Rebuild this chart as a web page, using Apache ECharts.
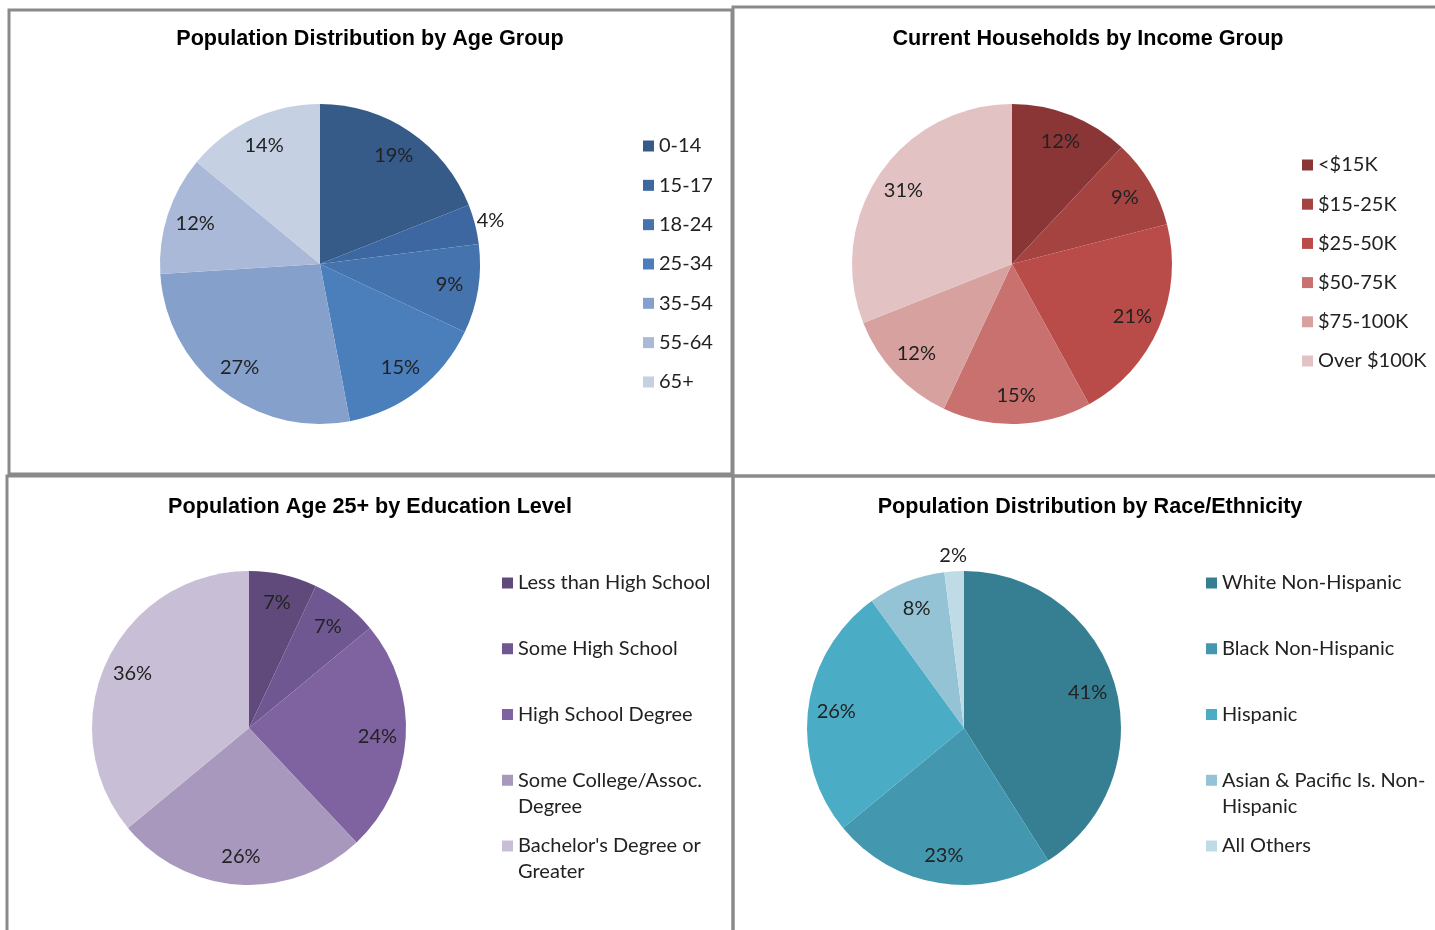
<!DOCTYPE html>
<html>
<head>
<meta charset="utf-8">
<script src="https://cdn.jsdelivr.net/npm/echarts@6/dist/echarts.min.js"></script>
<style>
  html, body { margin: 0; padding: 0; background: #ffffff; }
  #chart { width: 1435px; height: 930px; }
</style>
</head>
<body>
<div id="chart"></div>
<script>
// ---- Data (shares in percent) ----
const ageGroups = ['0-14', '15-17', '18-24', '25-34', '35-54', '55-64', '65+'];
const ageShares = [19, 4, 9, 15, 27, 12, 14];

const incomeGroups = ['<$15K', '$15-25K', '$25-50K', '$50-75K', '$75-100K', 'Over $100K'];
const incomeShares = [12, 9, 21, 15, 12, 31];

const educationLevels = ['Less than High School', 'Some High School', 'High School Degree',
  'Some College/Assoc.\nDegree', "Bachelor's Degree or\nGreater"];
const educationShares = [7, 7, 24, 26, 36];

const raceGroups = ['White Non-Hispanic', 'Black Non-Hispanic', 'Hispanic',
  'Asian & Pacific Is. Non-\nHispanic', 'All Others'];
const raceShares = [41, 23, 26, 8, 2];

const titles = [
  'Population Distribution by Age Group',
  'Current Households by Income Group',
  'Population Age 25+ by Education Level',
  'Population Distribution by Race/Ethnicity'
];

// ---- Layout and styling of the four panels ----
const TEXT_FONT = 'Lato, "Open Sans", sans-serif';
const TITLE_FONT = '"Liberation Sans", Arial, sans-serif';
const LINE_H = 26;

const panels = [
  { title: titles[0], names: ageGroups, values: ageShares,
    colors: ['#365B89', '#3D67A0', '#4573AE', '#4B7FBC', '#85A1CB', '#AAB9D8', '#C6D0E3'],
    center: [320, 264], radius: 160, titleAt: [370, 39],
    legendLeft: 643, legendTop: 146, legendStep: 39.33 },
  { title: titles[1], names: incomeGroups, values: incomeShares,
    colors: ['#8B3636', '#A54341', '#B94B48', '#C8716F', '#D7A1A0', '#E2C2C3'],
    center: [1012, 264], radius: 160, titleAt: [1088, 39],
    legendLeft: 1302, legendTop: 165, legendStep: 39.2 },
  { title: titles[2], names: educationLevels, values: educationShares,
    colors: ['#5F4A7B', '#6F5792', '#7F63A0', '#A898BE', '#C8BFD7'],
    center: [249, 728], radius: 157, titleAt: [370, 507],
    legendLeft: 502, legendTop: 583, legendStep: 65.75 },
  { title: titles[3], names: raceGroups, values: raceShares,
    colors: ['#367F93', '#4398AF', '#4BACC6', '#93C3D4', '#BFDCE6'],
    center: [964, 728], radius: 157, titleAt: [1090, 507],
    legendLeft: 1206, legendTop: 583, legendStep: 65.75 }
];

// Panel frames (grey boxes around each chart)
const frames = [
  { x: 9, y: 10, width: 723, height: 464 },
  { x: 733, y: 7, width: 720, height: 469 },
  { x: 7, y: 476, width: 726, height: 470 },
  { x: 733, y: 476, width: 720, height: 470 }
];

const graphics = [];
frames.forEach(f => graphics.push({
  type: 'rect', shape: f, silent: true, z: 0,
  style: { fill: null, stroke: '#8A8A8A', lineWidth: 3 }
}));
panels.forEach(p => graphics.push({
  type: 'text', x: p.titleAt[0], y: p.titleAt[1], silent: true,
  style: { text: p.title, align: 'center', verticalAlign: 'middle',
    fontFamily: TITLE_FONT, fontWeight: 'bold', fontSize: 21.6, fill: '#000000' }
}));

// One legend entry per category so each row sits at its own height.
// Wrapped entries get leading blank lines so the swatch (which the legend
// centres on the text block) lines up with their first line.
const legends = [];
panels.forEach(p => {
  p.names.forEach((name, i) => {
    const lines = name.split('\n').length;
    const boxH = (2 * lines - 1) * LINE_H;
    const yc = p.legendTop + i * p.legendStep;
    legends.push({
      data: [name], left: p.legendLeft, top: yc - boxH / 2,
      padding: 0, icon: 'rect', itemWidth: 11, itemHeight: 11,
      selectedMode: false,
      formatter: n => '\n'.repeat(lines - 1) + n,
      textStyle: { fontFamily: TEXT_FONT, fontSize: 20, color: '#222222',
        lineHeight: LINE_H }
    });
  });
});

// Place each percentage label along its slice's mid-angle;
// very thin slices get their label just outside the rim.
function placeLabel(params) {
  const p = panels[params.seriesIndex];
  const total = p.values.reduce((a, b) => a + b, 0);
  let before = 0;
  for (let i = 0; i < params.dataIndex; i++) before += p.values[i];
  const v = p.values[params.dataIndex];
  const ang = (before + v / 2) / total * Math.PI * 2;
  const f = v < 5 ? 1.1 : 0.82;
  return {
    x: p.center[0] + f * p.radius * Math.sin(ang),
    y: p.center[1] - f * p.radius * Math.cos(ang),
    align: 'center', verticalAlign: 'middle'
  };
}

const series = panels.map(p => ({
  type: 'pie',
  center: p.center,
  radius: p.radius,
  startAngle: 90,
  clockwise: true,
  silent: true,
  animation: false,
  avoidLabelOverlap: false,
  itemStyle: { borderWidth: 0 },
  label: { show: true, position: 'inside', formatter: '{c}%',
    fontFamily: TEXT_FONT, fontSize: 20, color: '#222222' },
  labelLine: { show: false },
  labelLayout: placeLabel,
  data: p.names.map((n, i) => ({ name: n, value: p.values[i],
    itemStyle: { color: p.colors[i] } }))
}));

const chart = echarts.init(document.getElementById('chart'), null, { renderer: 'canvas' });
chart.setOption({
  backgroundColor: '#ffffff',
  animation: false,
  legend: legends,
  graphic: graphics,
  series: series
});
</script>
</body>
</html>
